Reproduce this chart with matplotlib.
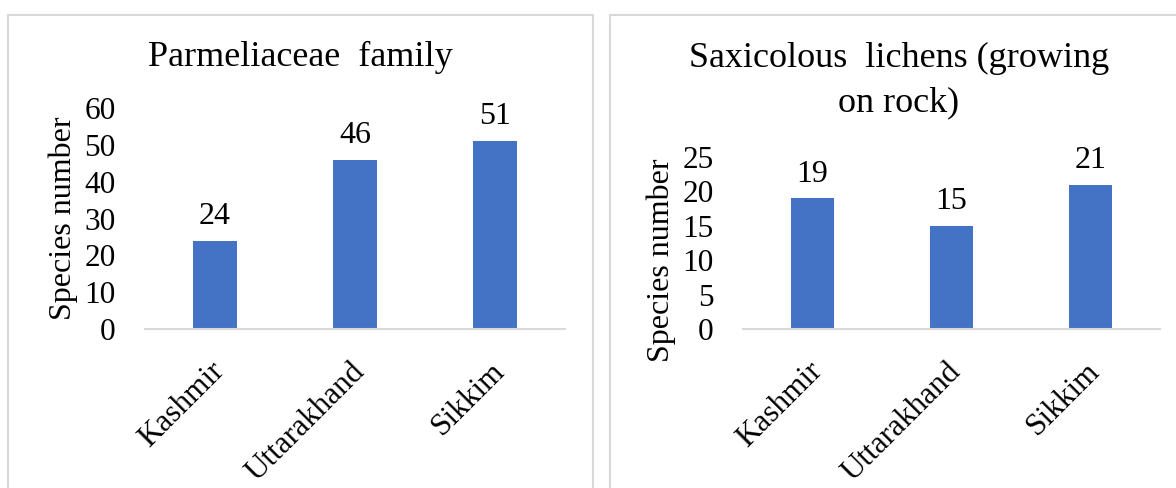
import matplotlib.pyplot as plt
from matplotlib.patches import Rectangle
from matplotlib.transforms import ScaledTranslation

regions = ["Kashmir", "Uttarakhand", "Sikkim"]
parmeliaceae = [24, 46, 51]
saxicolous = [19, 15, 21]

plt.rcParams['font.family'] = ['Liberation Serif', 'DejaVu Serif']

BAR = '#4472C4'
GRID = '#d9d9d9'
W, H = 1176, 488

fig = plt.figure(figsize=(W / 100, H / 100), dpi=100)

# panel frames
for x0, x1 in [(8, 593), (610, 1190)]:
    fig.add_artist(Rectangle((x0 / W, -0.1), (x1 - x0) / W, 1.1 - 15 / H,
                             transform=fig.transFigure, fill=False,
                             edgecolor=GRID, linewidth=1.5))


def bar_panel(rect, values, ymax, step, title, title_xy, ylabel_y):
    ax = fig.add_axes(rect)
    x = range(len(regions))
    bars = ax.bar(x, values, width=0.31, color=BAR)
    ax.set_xlim(-0.5, len(regions) - 0.5)
    ax.set_ylim(0, ymax)
    ax.set_yticks(range(0, ymax + 1, step))
    ax.tick_params(axis='y', length=0, labelsize=22.5, pad=21)
    ax.tick_params(axis='x', length=0, labelsize=22.5, pad=20)
    ax.set_xticks(list(x))
    ax.set_xticklabels(regions, rotation=45, ha='right', rotation_mode='anchor')
    shift = ScaledTranslation(-5 / 100, 0, fig.dpi_scale_trans)
    for lbl in ax.get_xticklabels():
        lbl.set_transform(lbl.get_transform() + shift)
    for s in ['top', 'right', 'left']:
        ax.spines[s].set_visible(False)
    ax.spines['bottom'].set_color(GRID)
    ax.spines['bottom'].set_linewidth(1.5)
    ax.set_ylabel('Species number', fontsize=23)
    ax.yaxis.set_label_coords(-67 / (rect[2] * W), ylabel_y)
    for b, v in zip(bars, values):
        ax.annotate(str(v), (b.get_x() + b.get_width() / 2, v),
                    xytext=(0, 7), textcoords='offset points',
                    ha='center', va='bottom', fontsize=23)
    fig.text(title_xy[0] / W, 1 - title_xy[1] / H, title, ha='center',
             va='center', fontsize=26, linespacing=1.45)
    return ax


bar_panel([145 / W, 1 - 329 / H, 420 / W, 221 / H], parmeliaceae, 60, 10,
          'Parmeliaceae  family', (300, 57), 0.5)
bar_panel([743 / W, 1 - 329 / H, 417 / W, 172 / H], saxicolous, 25, 5,
          'Saxicolous  lichens (growing\non rock)', (899, 81), 0.4)

fig.savefig('out.png', dpi=100)
